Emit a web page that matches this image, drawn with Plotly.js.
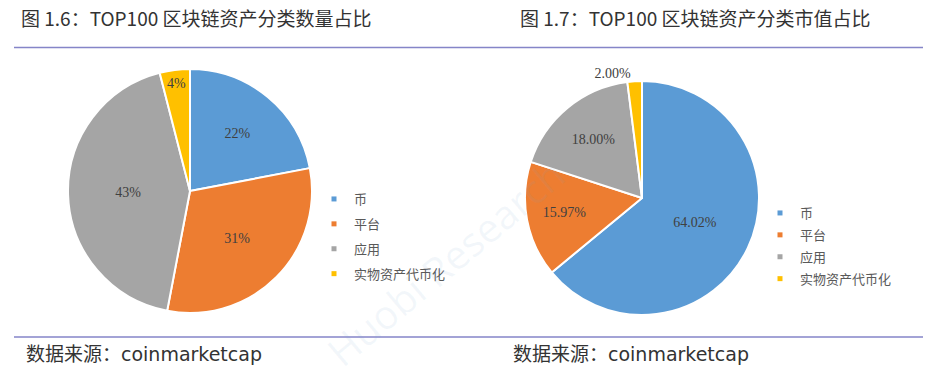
<!DOCTYPE html>
<html>
<head>
<meta charset="utf-8">
<script src="https://cdn.plot.ly/plotly-3.0.1.min.js"></script>
<style>html,body{margin:0;padding:0;background:#fff;}#chart{width:936px;height:377px;}</style>
</head>
<body>
<div id="chart"></div>
<script>
const categories = ['币', '平台', '应用', '实物资产代币化'];
const countShare = [22, 31, 43, 4];
const capShare = [64.02, 15.97, 18.00, 2.00];
const sliceColors = ['#5B9BD5', '#ED7D31', '#A5A5A5', '#FFC000'];
const titleLeft = '图 1.6：TOP100 区块链资产分类数量占比';
const titleRight = '图 1.7：TOP100 区块链资产分类市值占比';
const sourceText = '数据来源：coinmarketcap';
const watermark = 'Huobi Research';

const W = 936, H = 377;
const px = v => v / W;
const py = v => 1 - v / H;

const cjk = '"Noto Sans CJK SC", "Noto Sans", sans-serif';
const labelFont = {family: '"Liberation Serif", "Times New Roman", serif', size: 14, color: '#404040'};

const traces = [];
traces.push({
  type: 'pie',
  labels: categories,
  values: countShare,
  sort: false,
  direction: 'clockwise',
  rotation: 0,
  marker: {colors: sliceColors, line: {color: '#ffffff', width: 2}},
  texttemplate: '%{value}%',
  textposition: 'inside',
  insidetextorientation: 'horizontal',
  textfont: labelFont,
  showlegend: false,
  hoverinfo: 'label+percent',
  domain: {x: [px(68), px(312)], y: [py(313), py(69)]}
});
traces.push({
  type: 'pie',
  labels: categories,
  values: capShare,
  sort: false,
  direction: 'clockwise',
  rotation: 0,
  marker: {colors: sliceColors, line: {color: '#ffffff', width: 2}},
  texttemplate: '%{value:.2f}%',
  textposition: ['inside', 'inside', 'inside', 'outside'],
  insidetextorientation: 'horizontal',
  textfont: labelFont,
  outsidetextfont: labelFont,
  showlegend: false,
  automargin: false,
  hoverinfo: 'label+percent',
  domain: {x: [px(525), px(759)], y: [py(315), py(81)]}
});
// legend entries (small square keys)
categories.forEach((c, i) => {
  traces.push({type: 'scatter', mode: 'markers', x: [null], y: [null], name: c,
    legendgroup: 'a' + i, legend: 'legend',
    marker: {symbol: 'square', size: 5, color: sliceColors[i]}, hoverinfo: 'skip'});
});
categories.forEach((c, i) => {
  traces.push({type: 'scatter', mode: 'markers', x: [null], y: [null], name: c,
    legendgroup: 'b' + i, legend: 'legend2',
    marker: {symbol: 'square', size: 5, color: sliceColors[i]}, hoverinfo: 'skip'});
});

const legendFont = {family: cjk, size: 13, color: '#595959'};
const lineColor = '#8585C8';
const wmFont = {family: '"Open Sans", sans-serif', size: 40, color: 'rgba(120,160,205,0.09)'};
const srcFont = {family: '"DejaVu Sans", "Noto Sans CJK SC", sans-serif', size: 19, color: '#333333'};

const layout = {
  width: W, height: H,
  margin: {l: 0, r: 0, t: 0, b: 0},
  paper_bgcolor: '#ffffff',
  plot_bgcolor: 'rgba(0,0,0,0)',
  showlegend: true,
  xaxis: {visible: false, domain: [0.99, 1]},
  yaxis: {visible: false, domain: [0.99, 1]},
  legend: {x: px(314), xanchor: 'left', y: py(184), yanchor: 'top', font: legendFont,
    bgcolor: 'rgba(0,0,0,0)', traceorder: 'grouped', tracegroupgap: 5, itemclick: false},
  legend2: {x: px(760), xanchor: 'left', y: py(198), yanchor: 'top', font: legendFont,
    bgcolor: 'rgba(0,0,0,0)', traceorder: 'grouped', tracegroupgap: 2, itemclick: false},
  shapes: [
    {type: 'line', xref: 'paper', yref: 'paper', x0: px(14), x1: px(923), y0: py(47.5), y1: py(47.5),
      line: {color: lineColor, width: 1.5}},
    {type: 'line', xref: 'paper', yref: 'paper', x0: px(14), x1: px(923), y0: py(337), y1: py(337),
      line: {color: lineColor, width: 1.5}}
  ],
  annotations: [
    {text: watermark, xref: 'paper', yref: 'paper', x: px(445), y: py(262), xanchor: 'center', yanchor: 'middle',
      showarrow: false, textangle: -40, font: wmFont},
    {text: titleLeft, xref: 'paper', yref: 'paper', x: px(19), y: py(18), xanchor: 'left', yanchor: 'middle',
      showarrow: false, font: {family: cjk, size: 19, color: '#333333'}},
    {text: titleRight, xref: 'paper', yref: 'paper', x: px(518), y: py(18), xanchor: 'left', yanchor: 'middle',
      showarrow: false, font: {family: cjk, size: 19, color: '#333333'}},
    {text: sourceText, xref: 'paper', yref: 'paper', x: px(24), y: py(354), xanchor: 'left', yanchor: 'middle',
      showarrow: false, font: srcFont},
    {text: sourceText, xref: 'paper', yref: 'paper', x: px(511), y: py(354), xanchor: 'left', yanchor: 'middle',
      showarrow: false, font: srcFont}
  ],
  uniformtext: {mode: 'show', minsize: 14}
};

Plotly.newPlot('chart', traces, layout, {displayModeBar: false, staticPlot: true});
</script>
</body>
</html>
